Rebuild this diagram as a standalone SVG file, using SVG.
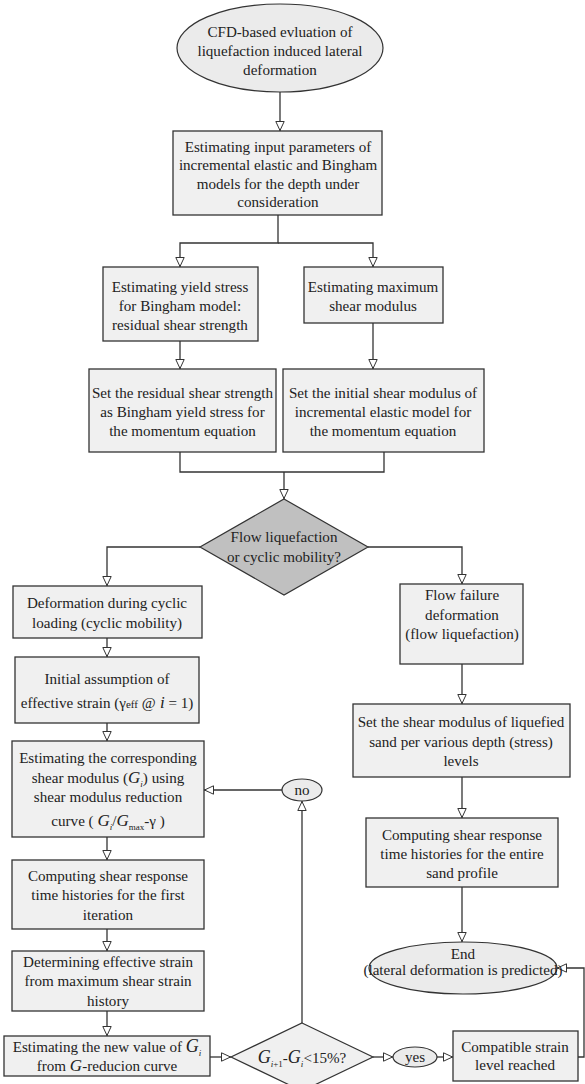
<svg xmlns="http://www.w3.org/2000/svg" width="585" height="1084" viewBox="0 0 585 1084" font-family="'Liberation Serif', 'Times New Roman', serif" font-size="15.1">
<style>
  .box { fill: #f0f0f0; stroke: #333; stroke-width: 1.3; }
  .ell { fill: #ebebeb; stroke: #333; stroke-width: 1.2; }
  .dia { fill: #c0c0c0; stroke: #333; stroke-width: 1.2; }
  .dia2 { fill: #f0f0f0; stroke: #333; stroke-width: 1.2; }
  .con { fill: none; stroke: #333; stroke-width: 1.3; }
  .t { fill: #222; text-anchor: middle; }
  .it { font-style: italic; }
</style>
<defs>
  <marker id="arr" viewBox="0 0 10 10" refX="10" refY="5" markerWidth="10" markerHeight="10" markerUnits="userSpaceOnUse" orient="auto">
    <path d="M0.5,0.8 L9.5,5 L0.5,9.2 z" fill="#fff" stroke="#333" stroke-width="1"/>
  </marker>
</defs>

<g id="connectors">
  <path class="con" d="M280,92 V131" marker-end="url(#arr)"/>
  <path class="con" d="M278,215 V243 H180 V267" marker-end="url(#arr)"/>
  <path class="con" d="M278,243 H373 V267" marker-end="url(#arr)"/>
  <path class="con" d="M180,341 V369" marker-end="url(#arr)"/>
  <path class="con" d="M373,323 V369" marker-end="url(#arr)"/>
  <path class="con" d="M180,452 V472 H384 V452"/>
  <path class="con" d="M284,472 V499" marker-end="url(#arr)"/>
  <path class="con" d="M200,547 H107 V586" marker-end="url(#arr)"/>
  <path class="con" d="M368,547 H462 V584" marker-end="url(#arr)"/>
  <path class="con" d="M107,638 V657" marker-end="url(#arr)"/>
  <path class="con" d="M107,723 V741" marker-end="url(#arr)"/>
  <path class="con" d="M107,837 V860" marker-end="url(#arr)"/>
  <path class="con" d="M107,929 V951" marker-end="url(#arr)"/>
  <path class="con" d="M107,1011 V1036" marker-end="url(#arr)"/>
  <path class="con" d="M210,1057 H231" marker-end="url(#arr)"/>
  <path class="con" d="M302,1023 V801" marker-end="url(#arr)"/>
  <path class="con" d="M282,790 H204" marker-end="url(#arr)"/>
  <path class="con" d="M373,1057 H393" marker-end="url(#arr)"/>
  <path class="con" d="M437,1057 H453" marker-end="url(#arr)"/>
  <path class="con" d="M578,1057 H584 V968 H557" marker-end="url(#arr)"/>
  <path class="con" d="M462,664 V704" marker-end="url(#arr)"/>
  <path class="con" d="M462,777 V818" marker-end="url(#arr)"/>
  <path class="con" d="M462,887 V942" marker-end="url(#arr)"/>
</g>

<g id="start">
  <ellipse class="ell" cx="280" cy="48" rx="103" ry="44"/>
  <text class="t" x="280" y="37">CFD-based evluation of</text>
  <text class="t" x="280" y="56">liquefaction induced lateral</text>
  <text class="t" x="280" y="75">deformation</text>
</g>

<g id="input-params">
  <rect class="box" x="173" y="131" width="209" height="84"/>
  <text class="t" x="278" y="152">Estimating input parameters of</text>
  <text class="t" x="278" y="170">incremental elastic and Bingham</text>
  <text class="t" x="278" y="189">models for the depth under</text>
  <text class="t" x="278" y="207">consideration</text>
</g>

<g id="yield-stress">
  <rect class="box" x="103" y="267" width="155" height="74"/>
  <text class="t" x="180" y="292">Estimating yield stress</text>
  <text class="t" x="180" y="311">for Bingham model:</text>
  <text class="t" x="180" y="330">residual shear strength</text>
</g>

<g id="max-shear">
  <rect class="box" x="304" y="267" width="139" height="56"/>
  <text class="t" x="373" y="292">Estimating maximum</text>
  <text class="t" x="373" y="311">shear modulus</text>
</g>

<g id="set-residual">
  <rect class="box" x="89" y="369" width="187" height="83"/>
  <text class="t" x="182.5" y="398">Set the residual shear strength</text>
  <text class="t" x="182.5" y="417">as Bingham yield stress for</text>
  <text class="t" x="182.5" y="436">the momentum equation</text>
</g>

<g id="set-initial">
  <rect class="box" x="283" y="369" width="201" height="83"/>
  <text class="t" x="383" y="398">Set the initial shear modulus of</text>
  <text class="t" x="383" y="417">incremental elastic model for</text>
  <text class="t" x="383" y="436">the momentum equation</text>
</g>

<g id="decision-flow">
  <polygon class="dia" points="284,499 368,547 284,595 200,547"/>
  <text class="t" x="284" y="542">Flow liquefaction</text>
  <text class="t" x="284" y="562">or cyclic mobility?</text>
</g>

<g id="cyclic-deformation">
  <rect class="box" x="13" y="586" width="189" height="52"/>
  <text class="t" x="107" y="608">Deformation during cyclic</text>
  <text class="t" x="107" y="628">loading (cyclic mobility)</text>
</g>

<g id="flow-failure">
  <rect class="box" x="400" y="584" width="123" height="80"/>
  <text class="t" x="462" y="600">Flow failure</text>
  <text class="t" x="462" y="620">deformation</text>
  <text class="t" x="462" y="639">(flow liquefaction)</text>
</g>

<g id="initial-assumption">
  <rect class="box" x="15" y="657" width="184" height="66"/>
  <text class="t" x="107" y="684">Initial assumption of</text>
  <text class="t" x="107" y="708">effective strain (γ<tspan font-size="11">eff</tspan> @<tspan class="it" font-size="17"> i</tspan> = 1)</text>
</g>

<g id="estimating-corresponding">
  <rect class="box" x="12" y="741" width="192" height="96"/>
  <text class="t" x="108" y="763">Estimating the corresponding</text>
  <text class="t" x="108" y="783">shear modulus (<tspan class="it" font-size="17">G</tspan><tspan class="it" font-size="9" dy="4">i</tspan><tspan dy="-4">) using</tspan></text>
  <text class="t" x="108" y="802">shear modulus reduction</text>
  <text class="t" x="108" y="826">curve ( <tspan class="it" font-size="17">G</tspan><tspan class="it" font-size="9" dy="4">i</tspan><tspan dy="-4">/</tspan><tspan class="it" font-size="17">G</tspan><tspan font-size="9" dy="4">max</tspan><tspan dy="-4">-γ )</tspan></text>
</g>

<g id="no-label">
  <ellipse class="ell" cx="302" cy="790" rx="20" ry="11"/>
  <text class="t" x="302" y="795">no</text>
</g>

<g id="computing-first">
  <rect class="box" x="12" y="860" width="192" height="69"/>
  <text class="t" x="108" y="881">Computing shear response</text>
  <text class="t" x="108" y="900">time histories for the first</text>
  <text class="t" x="108" y="920">iteration</text>
</g>

<g id="determining-strain">
  <rect class="box" x="12" y="951" width="192" height="60"/>
  <text class="t" x="108" y="967">Determining effective strain</text>
  <text class="t" x="108" y="986">from maximum shear strain</text>
  <text class="t" x="108" y="1006">history</text>
</g>

<g id="new-value">
  <rect class="box" x="4" y="1036" width="206" height="40"/>
  <text class="t" x="107" y="1052">Estimating the new value of <tspan class="it" font-size="18">G</tspan><tspan class="it" font-size="9" dy="4">i</tspan></text>
  <text class="t" x="107" y="1071">from <tspan class="it" font-size="17">G</tspan>-reducion curve</text>
</g>

<g id="decision-convergence">
  <polygon class="dia2" points="302,1023 373,1057 302,1091 231,1057"/>
  <text class="t" x="302" y="1063"><tspan class="it" font-size="18">G</tspan><tspan class="it" font-size="9" dy="4">i</tspan><tspan font-size="9">+1</tspan><tspan dy="-4">-</tspan><tspan class="it" font-size="18">G</tspan><tspan class="it" font-size="9" dy="4">i</tspan><tspan dy="-4">&lt;15%?</tspan></text>
</g>

<g id="yes-label">
  <ellipse class="ell" cx="415" cy="1057" rx="22" ry="10"/>
  <text class="t" x="415" y="1062">yes</text>
</g>

<g id="compatible">
  <rect class="box" x="453" y="1031" width="125" height="50"/>
  <text class="t" x="515" y="1052">Compatible strain</text>
  <text class="t" x="515" y="1070">level reached</text>
</g>

<g id="set-shear-liquefied">
  <rect class="box" x="353" y="704" width="217" height="73"/>
  <text class="t" x="461" y="727">Set the shear modulus of liquefied</text>
  <text class="t" x="461" y="747">sand per various depth (stress)</text>
  <text class="t" x="461" y="766">levels</text>
</g>

<g id="computing-entire">
  <rect class="box" x="366" y="818" width="192" height="69"/>
  <text class="t" x="462" y="840">Computing shear response</text>
  <text class="t" x="462" y="859">time histories for the entire</text>
  <text class="t" x="462" y="878">sand profile</text>
</g>

<g id="end">
  <ellipse class="ell" cx="463" cy="968" rx="94" ry="26"/>
  <text class="t" x="463" y="959">End</text>
  <text class="t" x="463" y="975">(lateral deformation is predicted)</text>
</g>
</svg>
